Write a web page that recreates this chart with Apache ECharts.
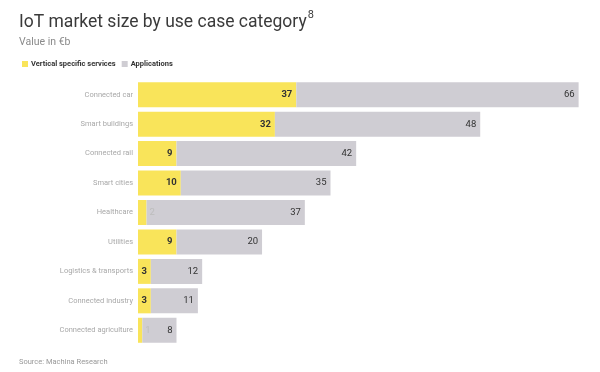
<!DOCTYPE html>
<html><head><meta charset="utf-8">
<script src="https://cdn.jsdelivr.net/npm/echarts@6/dist/echarts.min.js"></script>
<style>html,body{margin:0;padding:0;background:#fff}#c{width:600px;height:372px}</style>
</head><body><div id="c"></div>
<script>
const categories = ['Connected car','Smart buildings','Connected rail','Smart cities','Healthcare','Utilities','Logistics & transports','Connected industry','Connected agriculture'];
const verticalServices = [37,32,9,10,2,9,3,3,1];
const applications = [66,48,42,35,37,20,12,11,8];
const seriesNames = ['Vertical specific services','Applications'];

const FONT = 'Roboto, "Noto Sans", sans-serif';
const chart = echarts.init(document.getElementById('c'), null, {renderer:'canvas'});
chart.setOption({
  backgroundColor:'#fff',
  animation:false,
  title:{
    left:14, top:5,
    text:'{a|IoT market size by use case category}{s|8}',
    textStyle:{rich:{
      a:{fontFamily:FONT,fontSize:17.5,fontWeight:'normal',color:'#3a3a3a',verticalAlign:'bottom',lineHeight:22},
      s:{fontFamily:FONT,fontSize:11,fontWeight:'normal',color:'#3a3a3a',verticalAlign:'top',lineHeight:22,padding:[0,0,9,1]}
    }}
  },
  legend:{
    left:17, top:55, itemWidth:6, itemHeight:6, itemGap:6, icon:'rect',
    textStyle:{fontFamily:FONT,fontSize:7.5,fontWeight:'bold',color:'#333',padding:[0,0,0,-2]},
    data:seriesNames
  },
  graphic:[
    {type:'text',left:19,top:37,style:{text:'Value in €b',fontFamily:FONT,fontSize:10.5,fill:'#8a8a8a'}},
    {type:'text',left:19,top:358,style:{text:'Source: Machina Research',fontFamily:FONT,fontSize:7.5,fill:'#999'}}
  ],
  grid:{left:138, right:0, top:80, bottom:27, containLabel:false},
  xAxis:{type:'value', min:0, max:108, show:false},
  yAxis:{type:'category', data:categories, inverse:true,
    axisLine:{show:false}, axisTick:{show:false},
    axisLabel:{fontFamily:FONT,fontSize:7.5,color:'#a8a8a8',margin:5}
  },
  series:[
    {name:seriesNames[0], type:'bar', stack:'t', barWidth:25, itemStyle:{color:'#F9E45A'},
     label:{show:true, position:'insideRight', distance:4, fontFamily:FONT, fontSize:9.5, fontWeight:'bold', color:'#333'},
     data:verticalServices.map(v => v < 3 ? {value:v, label:{position:'right', distance:3, color:'#bdbdbd', fontWeight:'normal'}} : v)
    },
    {name:seriesNames[1], type:'bar', stack:'t', barWidth:25, itemStyle:{color:'#CFCDD3'},
     label:{show:true, position:'insideRight', distance:4, fontFamily:FONT, fontSize:9.5, color:'#333'},
     data:applications
    }
  ]
});
</script></body></html>
